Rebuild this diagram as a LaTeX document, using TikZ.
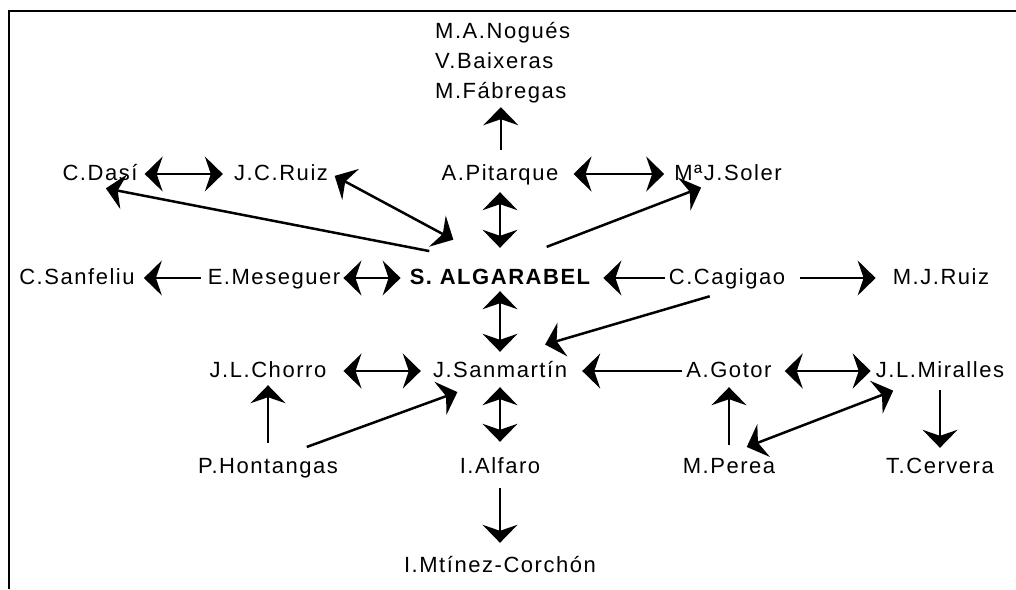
\documentclass[tikz,border=0pt]{standalone}
\usepackage{fontspec}
\setmainfont{Liberation Sans}[LetterSpace=7]
\usetikzlibrary{arrows.meta}

\begin{document}
\begin{tikzpicture}[x=1pt,y=-1pt,
  pnode/.style={anchor=base,inner sep=3pt,text height=16pt,text depth=4pt,
    font=\fontsize{22}{26}\selectfont},
  link/.style={line width=1.7pt,shorten >=6pt,shorten <=6pt},
  sgl/.style={link,-{Stealth[length=18pt,width=35pt,inset=6pt]}},
  dbl/.style={link,{Stealth[length=18pt,width=35pt,inset=6pt]}-{Stealth[length=18pt,width=35pt,inset=6pt]}},
  diag/.style={line width=2.5pt}
]
\useasboundingbox (0,0) rectangle (1016,589);

% the frame
\draw[line width=2.5pt] (1016,11) -| (9,589);

% the names on top
\foreach \n/\y/\t in {nogues/38/M.A.Nogués,baixeras/68/V.Baixeras,fabregas/98/M.Fábregas}
  \node[pnode,anchor=base west] (\n) at (432,\y) {\t};

% the rows
\foreach \n/\x/\t in {dasi/100/C.Dasí,jcruiz/281/J.C.Ruiz,pitarque/500/A.Pitarque,soler/728/MªJ.Soler}
  \node[pnode] (\n) at (\x,180) {\t};
\foreach \n/\x/\t in {sanfeliu/77/C.Sanfeliu,meseguer/274/E.Meseguer,cagigao/727/C.Cagigao,mjruiz/941/M.J.Ruiz}
  \node[pnode] (\n) at (\x,284) {\t};
\node[pnode,font=\fontsize{22}{26}\selectfont\bfseries] (alg) at (500,284) {S. ALGARABEL};
\foreach \n/\x/\t in {chorro/268/J.L.Chorro,sanmartin/500/J.Sanmartín,gotor/729/A.Gotor,miralles/940/J.L.Miralles}
  \node[pnode] (\n) at (\x,377) {\t};
\foreach \n/\x/\t in {hontangas/268/P.Hontangas,alfaro/500/I.Alfaro,perea/729/M.Perea,cervera/940/T.Cervera}
  \node[pnode] (\n) at (\x,473) {\t};
\node[pnode] (corchon) at (500,572) {I.Mtínez-Corchón};

% the vertical links
\draw[sgl,shorten <=11pt,shorten >=2pt] (pitarque.north -| fabregas) -- (fabregas.south);
\draw[dbl,shorten <=5pt,shorten >=17pt] (pitarque) -- (alg);
\draw[dbl,shorten <=0pt] (alg) -- (sanmartin);
\draw[dbl,shorten <=3pt,shorten >=12pt] (sanmartin) -- (alfaro);
\draw[sgl,shorten <=8pt,shorten >=10pt] (alfaro) -- (corchon);
\draw[sgl,shorten <=11pt,shorten >=1pt] (hontangas) -- (chorro);
\draw[sgl,shorten <=9pt,shorten >=3pt] (perea) -- (gotor);
\draw[sgl] (miralles) -- (cervera);

% the horizontal links
\draw[dbl,shorten <=4pt,shorten >=8pt] (dasi) -- (jcruiz);
\draw[dbl,shorten <=12pt,shorten >=7pt] (pitarque) -- (soler);
\draw[sgl,shorten <=4pt] (meseguer) -- (sanfeliu);
\draw[dbl,shorten <=0pt] (meseguer) -- (alg);
\draw[sgl,shorten <=1pt,shorten >=10pt] (cagigao) -- (alg);
\draw[sgl,shorten <=12pt,shorten >=14pt] (cagigao) -- (mjruiz);
\draw[dbl,shorten <=14pt,shorten >=9pt] (chorro) -- (sanmartin);
\draw[sgl,shorten <=1pt,shorten >=12pt] (gotor) -- (sanmartin);
\draw[dbl,shorten <=10pt,shorten >=2pt] (gotor) -- (miralles);

% the slanted links
\draw[sgl,diag,shorten <=72pt,shorten >=6pt] (alg.north) -- (dasi.south);
\draw[dbl,diag,shorten <=53pt,shorten >=4pt] (alg.north) -- (jcruiz.east);
\draw[sgl,diag,shorten <=50pt,shorten >=1pt] (alg.north) -- ([xshift=-26pt]soler.south);
\draw[sgl,diag,shorten <=18pt,shorten >=47pt] (cagigao.south) -- (sanmartin.north);
\draw[sgl,diag,shorten <=20pt,shorten >=23pt] ([xshift=20pt]hontangas.north) -- ([xshift=-21pt]sanmartin.south);
\draw[dbl,diag,shorten <=19pt,shorten >=18pt] (perea.north) -- ([xshift=-30pt]miralles.south);
\end{tikzpicture}
\end{document}
